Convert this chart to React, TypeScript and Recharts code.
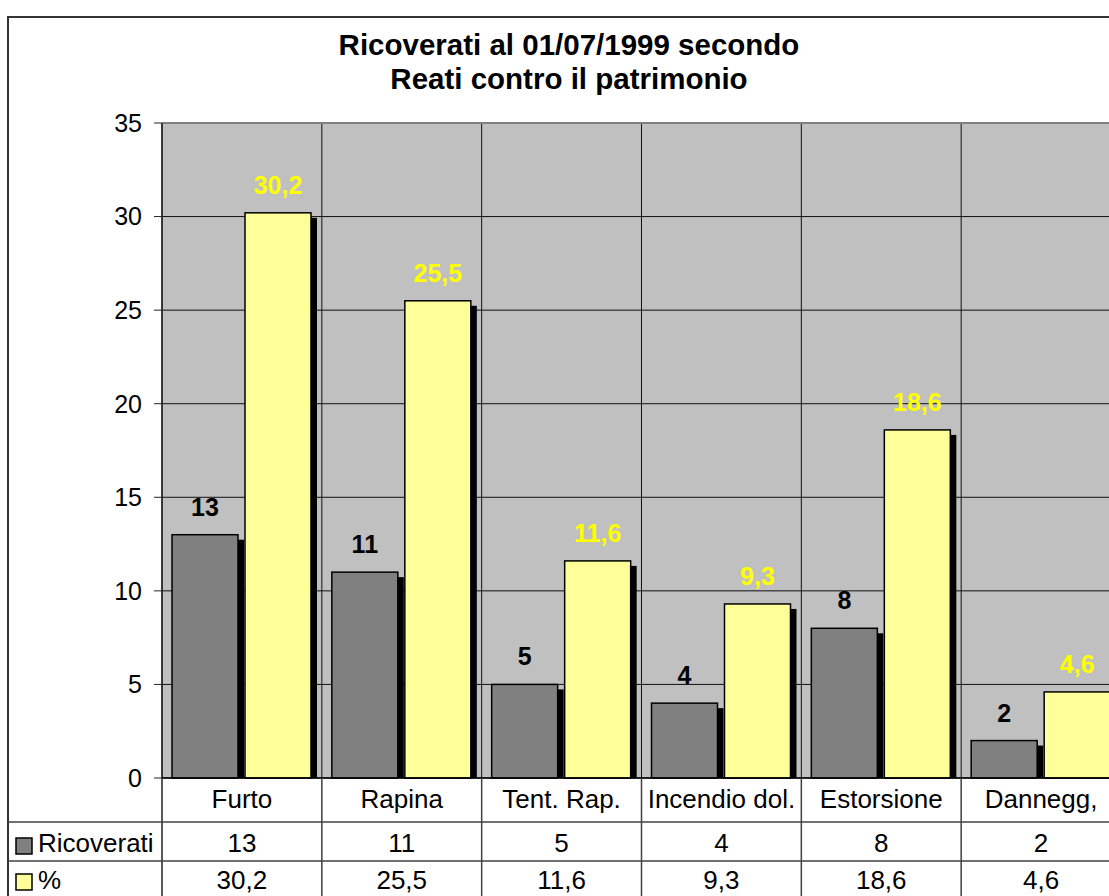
import React from "react";
import {
  Bar,
  BarChart,
  CartesianGrid,
  LabelList,
  ReferenceLine,
  XAxis,
  YAxis,
} from "recharts";

const categories = ["Furto", "Rapina", "Tent. Rap.", "Incendio dol.", "Estorsione", "Dannegg,"];
const ricoverati = [13, 11, 5, 4, 8, 2];
const percentuali = [30.2, 25.5, 11.6, 9.3, 18.6, 4.6];
const yTicks = [0, 5, 10, 15, 20, 25, 30, 35];

const data = categories.map((name, i) => ({
  name,
  ricoverati: ricoverati[i],
  pct: percentuali[i],
}));

const CHART_W = 1180;
const CHART_H = 920;
const PLOT_LEFT = 162;
const PLOT_TOP = 123;
const PLOT_RIGHT = 1121;
const BAND = (PLOT_RIGHT - PLOT_LEFT) / categories.length;
const FONT = "'Liberation Sans', Arial, sans-serif";
const LINE = "#404040";

const fmt = (v: number) => String(v).replace(".", ",");

function ShadowBar(props: any) {
  const { x, y, width, height, fill } = props;
  if (!height || height <= 0) return null;
  return (
    <g>
      <rect x={x + 6} y={y + 5} width={width} height={Math.max(0, height - 5)} fill="#000" />
      <rect x={x} y={y} width={width} height={height} fill={fill} stroke="#000" strokeWidth={1.5} />
    </g>
  );
}

function makeLabel(color: string) {
  return (props: any) => {
    const { x, y, width, value } = props;
    return (
      <text
        x={x + width / 2}
        y={y - 19}
        textAnchor="middle"
        fill={color}
        fontFamily={FONT}
        fontWeight="bold"
        fontSize={25}
      >
        {fmt(value)}
      </text>
    );
  };
}

function TableTick(props: any) {
  const { x, y, payload, index } = props;
  const i = index ?? payload.index;
  const l = x - BAND / 2;
  const r = x + BAND / 2;
  const txt = { textAnchor: "middle" as const, fontFamily: FONT, fontSize: 26, fill: "#000" };
  return (
    <g>
      {i === 0 && <line x1={l} x2={l} y1={y} y2={y + 160} stroke="#222" strokeWidth={1.5} />}
      <line x1={r} x2={r} y1={y} y2={y + 160} stroke={LINE} strokeWidth={1.5} />
      <line x1={l} x2={r} y1={y + 44} y2={y + 44} stroke={LINE} strokeWidth={1.5} />
      <line x1={l} x2={r} y1={y + 83} y2={y + 83} stroke={LINE} strokeWidth={1.5} />
      <text x={x} y={y + 30} {...txt}>{payload.value}</text>
      <text x={x} y={y + 74} {...txt}>{fmt(ricoverati[i])}</text>
      <text x={x} y={y + 111} {...txt}>{fmt(percentuali[i])}</text>
    </g>
  );
}

export default function App() {
  return (
    <div
      style={{
        position: "fixed",
        left: 0,
        top: 0,
        width: 1109,
        height: 896,
        overflow: "hidden",
        background: "#fff",
      }}
    >
      <div style={{ position: "absolute", left: 0, top: 0 }}>
        <BarChart
          width={CHART_W}
          height={CHART_H}
          data={data}
          margin={{ top: PLOT_TOP, right: CHART_W - PLOT_RIGHT, bottom: 0, left: 0 }}
          barCategoryGap={10}
          barGap={7}
        >
          <CartesianGrid
            fill="#C0C0C0"
            fillOpacity={1}
            stroke="#111"
            strokeWidth={1}
            verticalCoordinatesGenerator={({ offset }: any) =>
              Array.from({ length: categories.length + 1 }, (_, k) => offset.left + (k * offset.width) / categories.length)
            }
          />
          <ReferenceLine y={35} stroke="#808080" strokeWidth={2} />
          <XAxis
            dataKey="name"
            interval={0}
            height={CHART_H - 778}
            tickSize={0}
            tickMargin={0}
            axisLine={{ stroke: "#000", strokeWidth: 1.5 }}
            tick={(p: any) => <TableTick {...p} />}
          />
          <YAxis
            width={PLOT_LEFT}
            domain={[0, 35]}
            ticks={yTicks}
            interval={0}
            tickSize={8}
            tickMargin={12}
            axisLine={{ stroke: "#222", strokeWidth: 1.5 }}
            tickLine={{ stroke: "#222" }}
            tick={{ fontFamily: FONT, fontSize: 25, fill: "#000" }}
          />
          <Bar dataKey="ricoverati" fill="#808080" shape={<ShadowBar />} isAnimationActive={false}>
            <LabelList dataKey="ricoverati" content={makeLabel("#000")} />
          </Bar>
          <Bar dataKey="pct" fill="#FFFF99" shape={<ShadowBar />} isAnimationActive={false}>
            <LabelList dataKey="pct" content={makeLabel("#FFFF00")} />
          </Bar>
        </BarChart>
      </div>
      <svg
        width={1109}
        height={896}
        style={{ position: "absolute", left: 0, top: 0, pointerEvents: "none" }}
      >
        <rect x={8} y={17} width={1200} height={1000} fill="none" stroke="#333" strokeWidth={2} />
        <text x={569} y={55} textAnchor="middle" fontFamily={FONT} fontWeight="bold" fontSize={29.5} fill="#000">
          Ricoverati al 01/07/1999 secondo
        </text>
        <text x={569} y={89} textAnchor="middle" fontFamily={FONT} fontWeight="bold" fontSize={29.5} fill="#000">
          Reati contro il patrimonio
        </text>
        <line x1={8} x2={PLOT_LEFT} y1={822} y2={822} stroke={LINE} strokeWidth={1.5} />
        <line x1={8} x2={PLOT_LEFT} y1={861} y2={861} stroke={LINE} strokeWidth={1.5} />
        <rect x={16} y={838} width={16} height={16} fill="#808080" stroke="#000" strokeWidth={1.5} />
        <text x={38} y={852} fontFamily={FONT} fontSize={26} fill="#000">Ricoverati</text>
        <rect x={16} y={874} width={16} height={16} fill="#FFFF99" stroke="#000" strokeWidth={1.5} />
        <text x={38} y={889} fontFamily={FONT} fontSize={26} fill="#000">%</text>
      </svg>
    </div>
  );
}
